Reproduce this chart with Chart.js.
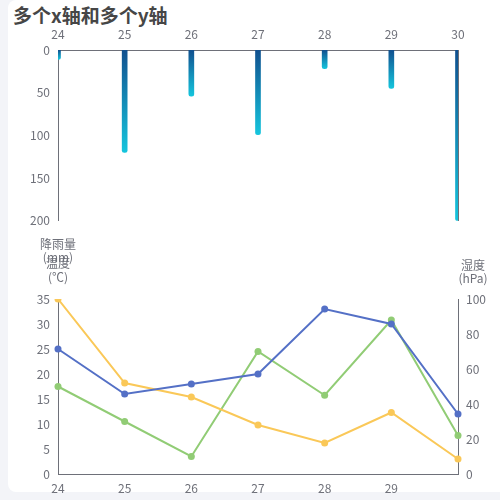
<!DOCTYPE html>
<html>
<head>
<meta charset="utf-8">
<script src="https://cdn.jsdelivr.net/npm/chart.js@4"></script>
<style>
  html, body { margin:0; padding:0; width:500px; height:500px; overflow:hidden; background:#f3f4f8; }
  #card { position:absolute; left:8px; top:0; width:520px; height:492px; background:#fff; border-radius:8px; }
  #title { position:absolute; left:13px; top:1px; font: bold 19px 'Noto Sans CJK SC', sans-serif; color:#464646; white-space:nowrap; }
  .aname { position:absolute; font: 12px 'Noto Sans CJK SC', sans-serif; color:#6e7079; text-align:center; width:80px; white-space:nowrap; }
  #c1 { position:absolute; left:0; top:24px; }
  #c2 { position:absolute; left:0; top:236px; }
</style>
</head>
<body>
<div id="card"></div>
<div id="title">多个x轴和多个y轴</div>
<canvas id="c1" width="500" height="212" style="width:500px;height:212px"></canvas>
<canvas id="c2" width="500" height="264" style="width:500px;height:264px"></canvas>
<div class="aname" style="left:18px; top:237px; line-height:13px;">降雨量<br>(mm)</div>
<div class="aname" style="left:18px; top:256px; line-height:14px;">温度<br>(℃)</div>
<div class="aname" style="left:433px; top:258px; line-height:13px;">湿度<br>(hPa)</div>
<script>
const categories = ['24', '25', '26', '27', '28', '29', '30'];
const rainfall = [11, 120, 54, 99, 22, 45, 200];
const tempBlue = [25, 16, 18, 20, 33, 30, 12];
const tempYellow = [35, 18.2, 15.4, 9.8, 6.2, 12.3, 3];
const humidity = [50, 30, 10, 70, 45, 88, 22];
const rainTicks = { min: 0, max: 200, step: 50 };
const tempTicks = { min: 0, max: 35, step: 5 };
const humTicks = { min: 0, max: 100, step: 20 };

Chart.defaults.font.family = "'Noto Sans CJK SC', 'Noto Sans', sans-serif";
Chart.defaults.font.size = 12;
Chart.defaults.color = '#6e7079';

const axisColor = '#6e7079';
const barTop = '#11508f';
const barBottom = '#15c5dd';

function barGradient(c) {
  const chart = c.chart;
  if (!chart.chartArea || c.type !== 'data') return barTop;
  const ys = chart.scales.y;
  const y0 = ys.getPixelForValue(0);
  const y1 = ys.getPixelForValue(c.raw);
  if (!isFinite(y0) || !isFinite(y1) || y0 === y1) return barTop;
  const g = chart.ctx.createLinearGradient(0, y0, 0, y1);
  g.addColorStop(0, barTop);
  g.addColorStop(1, barBottom);
  return g;
}

new Chart(document.getElementById('c1'), {
  type: 'bar',
  data: {
    labels: categories,
    datasets: [{
      label: '降雨量',
      data: rainfall,
      backgroundColor: barGradient,
      barThickness: 5,
      borderRadius: 3,
      borderSkipped: 'start'
    }]
  },
  options: {
    responsive: false,
    animation: false,
    layout: { padding: { left: 0, right: 42, top: 0, bottom: 12 } },
    plugins: { legend: { display: false }, tooltip: { enabled: false } },
    scales: {
      x: {
        position: 'top',
        offset: false,
        grid: { display: false, drawTicks: false },
        border: { color: axisColor, width: 1 },
        ticks: { autoSkip: false, maxRotation: 0, padding: 8 },
        afterFit: a => { a.height = 26; }
      },
      y: {
        reverse: true,
        min: rainTicks.min, max: rainTicks.max,
        grid: { display: false, drawTicks: false },
        border: { color: axisColor, width: 1 },
        ticks: { stepSize: rainTicks.step, padding: 8 },
        afterFit: a => { a.width = 58; }
      },
      y2: {
        position: 'right',
        min: rainTicks.min, max: rainTicks.max,
        grid: { display: false, drawTicks: false },
        border: { color: axisColor, width: 1 },
        ticks: { display: false },
        afterFit: a => { a.width = 0; }
      }
    }
  }
});

function lineDs(label, data, color, axis) {
  return {
    label, data, yAxisID: axis,
    borderColor: color, backgroundColor: color,
    pointBackgroundColor: color, pointBorderColor: color,
    borderWidth: 2, pointRadius: 3.5, pointBorderWidth: 0,
    tension: 0, fill: false
  };
}

new Chart(document.getElementById('c2'), {
  type: 'line',
  data: {
    labels: categories,
    datasets: [
      lineDs('温度A', tempBlue, '#5470c6', 'y'),
      lineDs('温度B', tempYellow, '#fac858', 'y'),
      lineDs('湿度', humidity, '#91cc75', 'y1')
    ]
  },
  options: {
    responsive: false,
    animation: false,
    layout: { padding: { left: 0, right: 0, top: 63, bottom: 0 } },
    plugins: { legend: { display: false }, tooltip: { enabled: false } },
    scales: {
      x: {
        offset: false,
        grid: { display: false, drawTicks: false },
        border: { color: axisColor, width: 1 },
        ticks: {
          autoSkip: false, maxRotation: 0, padding: 7,
          callback: function (v, i) { return i === categories.length - 1 ? '' : this.getLabelForValue(v); }
        },
        afterFit: a => { a.height = 26; }
      },
      y: {
        position: 'left',
        min: tempTicks.min, max: tempTicks.max,
        grid: { display: false, drawTicks: false },
        border: { color: axisColor, width: 1 },
        ticks: { stepSize: tempTicks.step, padding: 8 },
        afterFit: a => { a.width = 58; }
      },
      y1: {
        position: 'right',
        min: humTicks.min, max: humTicks.max,
        grid: { display: false, drawTicks: false },
        border: { color: axisColor, width: 1 },
        ticks: { stepSize: humTicks.step, padding: 8 },
        afterFit: a => { a.width = 42; }
      }
    }
  }
});
</script>
</body>
</html>
